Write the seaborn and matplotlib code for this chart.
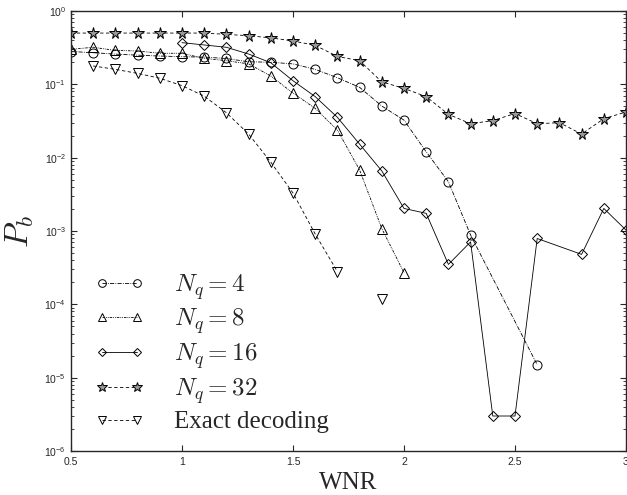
import numpy as np
import pandas as pd
import matplotlib
matplotlib.use("Agg")
import matplotlib.pyplot as plt
from matplotlib.lines import Line2D
from matplotlib.ticker import LogLocator, FixedLocator
import seaborn as sns

# ---------------------------------------------------------------------
# Data
# ---------------------------------------------------------------------
wnr_4 = [0.5, 0.6, 0.7, 0.8, 0.9, 1.0, 1.1, 1.2, 1.3, 1.4, 1.5, 1.6, 1.7,
         1.8, 1.9, 2.0, 2.1, 2.2, 2.3, 2.6]
pb_4 = [0.28, 0.27, 0.258, 0.25, 0.243, 0.238, 0.235, 0.225, 0.203, 0.20,
        0.19, 0.16, 0.123, 0.091, 0.0506, 0.0325, 0.012, 0.0047, 8.8e-4,
        1.5e-5]

wnr_8 = [0.5, 0.6, 0.7, 0.8, 0.9, 1.0, 1.1, 1.2, 1.3, 1.4, 1.5, 1.6, 1.7,
         1.8, 1.9, 2.0]
pb_8 = [0.30, 0.32, 0.29, 0.285, 0.265, 0.265, 0.226, 0.21, 0.19, 0.13,
        0.076, 0.047, 0.0238, 0.0068, 0.00108, 2.7e-4]

wnr_16 = [1.0, 1.1, 1.2, 1.3, 1.4, 1.5, 1.6, 1.7, 1.8, 1.9, 2.0, 2.1, 2.2,
          2.3, 2.4, 2.5, 2.6, 2.8, 2.9, 3.0]
pb_16 = [0.37, 0.344, 0.32, 0.259, 0.197, 0.112, 0.068, 0.0355, 0.0153,
         0.0066, 0.00203, 0.00174, 3.5e-4, 7.1e-4, 3.0e-6, 3.0e-6, 7.9e-4,
         4.8e-4, 0.00203, 0.00103]

wnr_32 = [0.5, 0.6, 0.7, 0.8, 0.9, 1.0, 1.1, 1.2, 1.3, 1.4, 1.5, 1.6, 1.7,
          1.8, 1.9, 2.0, 2.1, 2.2, 2.3, 2.4, 2.5, 2.6, 2.7, 2.8, 2.9, 3.0]
pb_32 = [0.50, 0.50, 0.50, 0.50, 0.50, 0.50, 0.50, 0.48, 0.46, 0.43, 0.39,
         0.34, 0.24, 0.21, 0.108, 0.088, 0.068, 0.039, 0.029, 0.032, 0.040,
         0.029, 0.030, 0.021, 0.034, 0.042]

wnr_exact = [0.6, 0.7, 0.8, 0.9, 1.0, 1.1, 1.2, 1.3, 1.4, 1.5, 1.6, 1.7, 1.9]
pb_exact = [0.178, 0.16, 0.141, 0.121, 0.096, 0.069, 0.041, 0.021, 0.0087,
            0.0033, 9.1e-4, 2.8e-4, 1.2e-4]
# the curve is broken between 1.7 and 1.9 (no value at 1.8)
seg_exact = [0] * 12 + [1]

labels = [r"$N_q = 4$", r"$N_q = 8$", r"$N_q = 16$", r"$N_q = 32$",
          "Exact decoding"]

# ---------------------------------------------------------------------
# Styles
# ---------------------------------------------------------------------
styles = [
    dict(marker="o", ls=(0, (5, 1.5, 1, 1.5)), ms=6.5, mfc="none"),
    dict(marker="^", ls=(0, (3, 1.2, 1, 1.2, 1, 1.2)), ms=6.5, mfc="none"),
    dict(marker="D", ls="-", ms=5.3, mfc="none"),
    dict(marker="*", ls=(0, (4, 3)), ms=8.5, mfc="0.6"),
    dict(marker="v", ls=(0, (4, 3)), ms=6.5, mfc="none"),
]

sns.set_style("ticks")
plt.rcParams.update({
    "font.family": ["Liberation Sans", "DejaVu Sans"],
    "mathtext.fontset": "cm",
    "xtick.direction": "in",
    "ytick.direction": "in",
    "xtick.top": True,
    "ytick.right": True,
})

fig = plt.figure(figsize=(6.27, 4.95), dpi=100)
ax = fig.add_axes([0.1132, 0.0889, 0.8852, 0.8889])

series = [
    (wnr_4, pb_4, [0] * len(wnr_4)),
    (wnr_8, pb_8, [0] * len(wnr_8)),
    (wnr_16, pb_16, [0] * len(wnr_16)),
    (wnr_32, pb_32, [0] * len(wnr_32)),
    (wnr_exact, pb_exact, seg_exact),
]

handles = []
for (xs, ys, seg), st, lab in zip(series, styles, labels):
    df = pd.DataFrame({"wnr": xs, "pb": ys, "seg": seg})
    sns.lineplot(data=df, x="wnr", y="pb", units="seg", estimator=None,
                 ax=ax, color="black", linestyle=st["ls"], linewidth=0.6,
                 marker=st["marker"], markersize=st["ms"],
                 markerfacecolor=st["mfc"], markeredgecolor="black",
                 markeredgewidth=0.7, legend=False)
    handles.append(Line2D([], [], color="black", linestyle=st["ls"],
                          linewidth=0.6, marker=st["marker"],
                          markersize=st["ms"] * 0.85,
                          markerfacecolor=st["mfc"],
                          markeredgecolor="black", markeredgewidth=0.7,
                          label=lab))

ax.set_yscale("log")
ax.set_xlim(0.5, 3.0)
ax.set_ylim(1e-6, 1)
ax.xaxis.set_major_locator(FixedLocator([0.5, 1, 1.5, 2, 2.5, 3]))
ax.set_xticklabels(["0.5", "1", "1.5", "2", "2.5", "3"])
ax.yaxis.set_major_locator(LogLocator(base=10, numticks=10))
ax.yaxis.set_minor_locator(LogLocator(base=10, subs=np.arange(2, 10),
                                      numticks=20))
ax.tick_params(axis="both", which="major", labelsize=7.5, length=4,
               width=0.8)
ax.tick_params(axis="y", which="minor", length=2, width=0.6)
ax.tick_params(axis="x", which="major", pad=4)
for sp in ax.spines.values():
    sp.set_linewidth(1.0)
    sp.set_visible(True)

ax.set_xlabel("WNR", fontsize=18, labelpad=4)
ax.xaxis.label.set_fontfamily(["Liberation Serif", "DejaVu Serif"])
ax.set_ylabel(r"$P_b$", fontsize=24, labelpad=6)

leg = ax.legend(handles=handles, loc="lower left", numpoints=2,
                frameon=False, handlelength=2.0,
                handletextpad=1.2, labelspacing=0.2,
                borderpad=0.0, borderaxespad=0.0,
                bbox_to_anchor=(0.042, 0.04),
                prop={"family": ["Liberation Serif", "DejaVu Serif"],
                      "size": 18})

fig.savefig("out.png", dpi=100)
